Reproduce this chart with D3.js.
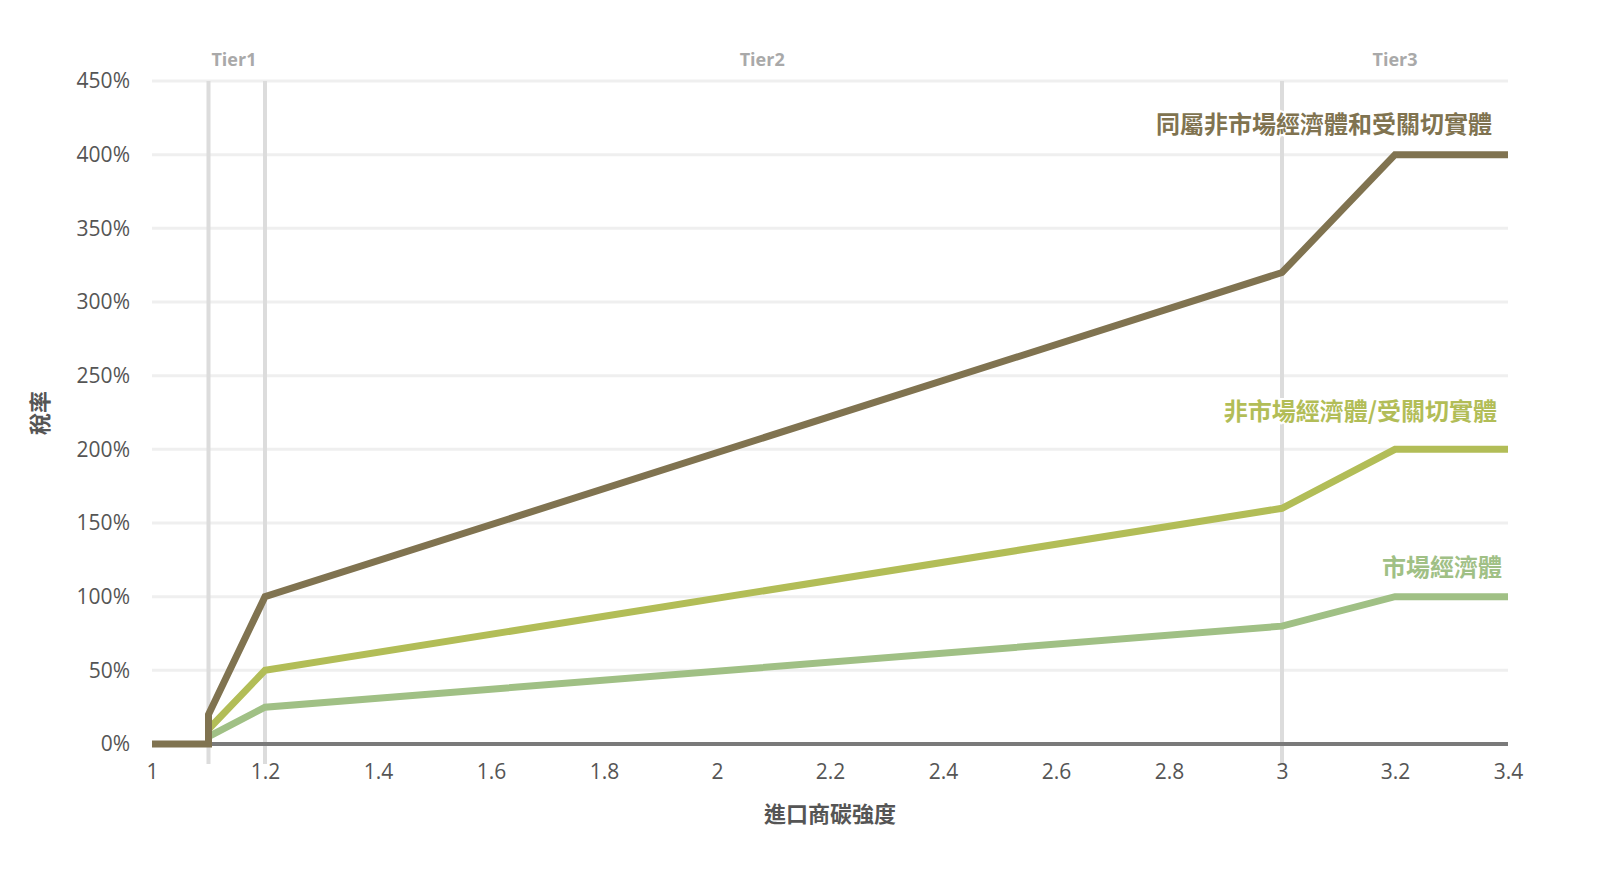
<!DOCTYPE html>
<html><head><meta charset="utf-8">
<script src="https://cdn.jsdelivr.net/npm/d3@7"></script>
<style>
body{margin:0;background:#fff;}
text{font-family:"Open Sans","Noto Sans",sans-serif;}
.cjk{font-family:"Noto Sans CJK TC","Noto Sans CJK SC",sans-serif;}
</style></head>
<body><svg id="c" width="1600" height="872"></svg>
<script>
const xValues = [1, 1.1, 1.1, 1.2, 3, 3.2, 3.4];
const seriesNames = ["同屬非市場經濟體和受關切實體", "非市場經濟體/受關切實體", "市場經濟體"];
const seriesColors = ["#807350", "#b2bd57", "#a0c085"];
const seriesDark = [0, 0, 20, 100, 320, 400, 400];
const seriesNME = [0, 0, 10, 50, 160, 200, 200];
const seriesME = [0, 0, 5, 25, 80, 100, 100];
const xTicks = [1, 1.2, 1.4, 1.6, 1.8, 2, 2.2, 2.4, 2.6, 2.8, 3, 3.2, 3.4];
const yTicks = [0, 50, 100, 150, 200, 250, 300, 350, 400, 450];
const tierLines = [1.1, 1.2, 3];
const tierLabels = ["Tier1", "Tier2", "Tier3"];
const tierLabelX = [1.145, 2.08, 3.2];

const svg = d3.select("#c");
const x = d3.scaleLinear().domain([1, 3.4]).range([152, 1508]);
const y = d3.scaleLinear().domain([0, 450]).range([744, 81]);

// gridlines
svg.append("g").selectAll("line").data(yTicks.filter(d => d > 0)).join("line")
  .attr("x1", x(1)).attr("x2", x(3.4)).attr("y1", d => y(d)).attr("y2", d => y(d))
  .attr("stroke", "#efefef").attr("stroke-width", 3);

// tier lines
svg.append("g").selectAll("line").data(tierLines).join("line")
  .attr("x1", d => x(d)).attr("x2", d => x(d)).attr("y1", y(450)).attr("y2", y(0) + 20)
  .attr("stroke", "#dcdcdc").attr("stroke-width", 4);

svg.append("g").selectAll("text").data(tierLabels).join("text")
  .attr("x", (d, i) => x(tierLabelX[i])).attr("y", 66).attr("text-anchor", "middle")
  .attr("font-size", 18).attr("font-weight", 700).attr("fill", "#a9a9a9").text(d => d);

// x axis line
svg.append("line").attr("x1", x(1)).attr("x2", x(3.4)).attr("y1", y(0)).attr("y2", y(0))
  .attr("stroke", "#7a7a7a").attr("stroke-width", 4);

// axes labels
const xAxis = d3.axisBottom(x).tickValues(xTicks).tickSize(0).tickPadding(20).tickFormat(d3.format("~g"));
const gx = svg.append("g").attr("transform", `translate(0,${y(0)})`).call(xAxis);
gx.select(".domain").remove();
gx.selectAll("text").attr("font-size", 21).attr("fill", "#555").attr("font-family", "'Open Sans',sans-serif");

const yAxis = d3.axisLeft(y).tickValues(yTicks).tickSize(0).tickPadding(22).tickFormat(d => d + "%");
const gy = svg.append("g").attr("transform", `translate(${x(1)},0)`).call(yAxis);
gy.select(".domain").remove();
gy.selectAll("text").attr("font-size", 21).attr("fill", "#555").attr("font-family", "'Open Sans',sans-serif");

svg.append("text").attr("class", "cjk").attr("x", 830).attr("y", 822).attr("text-anchor", "middle")
  .attr("font-size", 22).attr("font-weight", 700).attr("fill", "#555").text("進口商碳強度");
svg.append("text").attr("class", "cjk").attr("transform", `translate(48,413) rotate(-90)`)
  .attr("text-anchor", "middle").attr("font-size", 22).attr("font-weight", 700).attr("fill", "#555").text("稅率");

// lines
const series = [seriesDark, seriesNME, seriesME];
const line = d3.line().x(d => x(d[0])).y(d => y(d[1]));
[2, 1, 0].forEach(i => {
  const pts = xValues.map((xv, j) => [xv, series[i][j]]);
  svg.append("path").attr("d", line(i === 0 ? pts : pts.slice(1)))
    .attr("fill", "none").attr("stroke", seriesColors[i]).attr("stroke-width", 7)
    .attr("stroke-linejoin", "miter");
});

// series labels
const labelRight = [1492, 1497, 1502];
const labelBase = [133, 420, 576];
seriesNames.forEach((n, i) => {
  svg.append("text").attr("class", "cjk").attr("x", labelRight[i]).attr("y", labelBase[i])
    .attr("text-anchor", "end").attr("font-size", 24).attr("font-weight", 700)
    .attr("fill", seriesColors[i]).attr("stroke", "#fff").attr("stroke-width", 4)
    .attr("paint-order", "stroke").text(n);
});
</script></body></html>
